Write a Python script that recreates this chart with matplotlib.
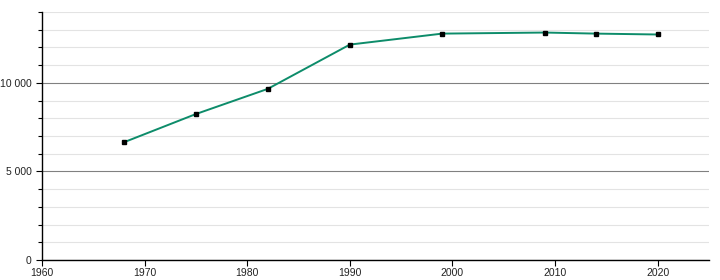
import matplotlib
matplotlib.use("Agg")
import matplotlib.pyplot as plt
from matplotlib.ticker import MultipleLocator, FuncFormatter

years = [1968, 1975, 1982, 1990, 1999, 2009, 2014, 2020]
population = [6650, 8240, 9660, 12160, 12780, 12840, 12780, 12730]

plt.rcParams['font.family'] = ['Liberation Sans', 'DejaVu Sans']
plt.rcParams['font.size'] = 7.5

fig = plt.figure(figsize=(7.2, 2.8), dpi=100)
ax = fig.add_axes([42 / 720, 20 / 280, 667 / 720, 248 / 280])

ax.set_xlim(1960, 2025)
ax.set_ylim(0, 14000)

ax.yaxis.set_major_locator(MultipleLocator(5000))
ax.yaxis.set_minor_locator(MultipleLocator(1000))
ax.xaxis.set_major_locator(MultipleLocator(10))
ax.yaxis.set_major_formatter(FuncFormatter(lambda v, p: f"{int(v):,}".replace(",", " ")))

ax.grid(axis='y', which='minor', color='#e3e3e3', linewidth=0.8)
ax.grid(axis='y', which='major', color='#808080', linewidth=0.8)
ax.set_axisbelow(True)

ax.plot(years, population, color='#0d8c6a', linewidth=1.4, zorder=3)
ax.plot(years, population, linestyle='none', marker='s', markersize=3.4,
        color='black', zorder=4)

for s in ['top', 'right']:
    ax.spines[s].set_visible(False)
ax.spines['left'].set_linewidth(1)
ax.spines['bottom'].set_linewidth(1)
ax.tick_params(axis='both', which='major', length=4, width=0.8, colors='black', labelcolor='#222222')
ax.tick_params(axis='y', which='minor', length=3, width=0.8)
ax.tick_params(axis='x', pad=2)

fig.savefig("out.png", dpi=100)
